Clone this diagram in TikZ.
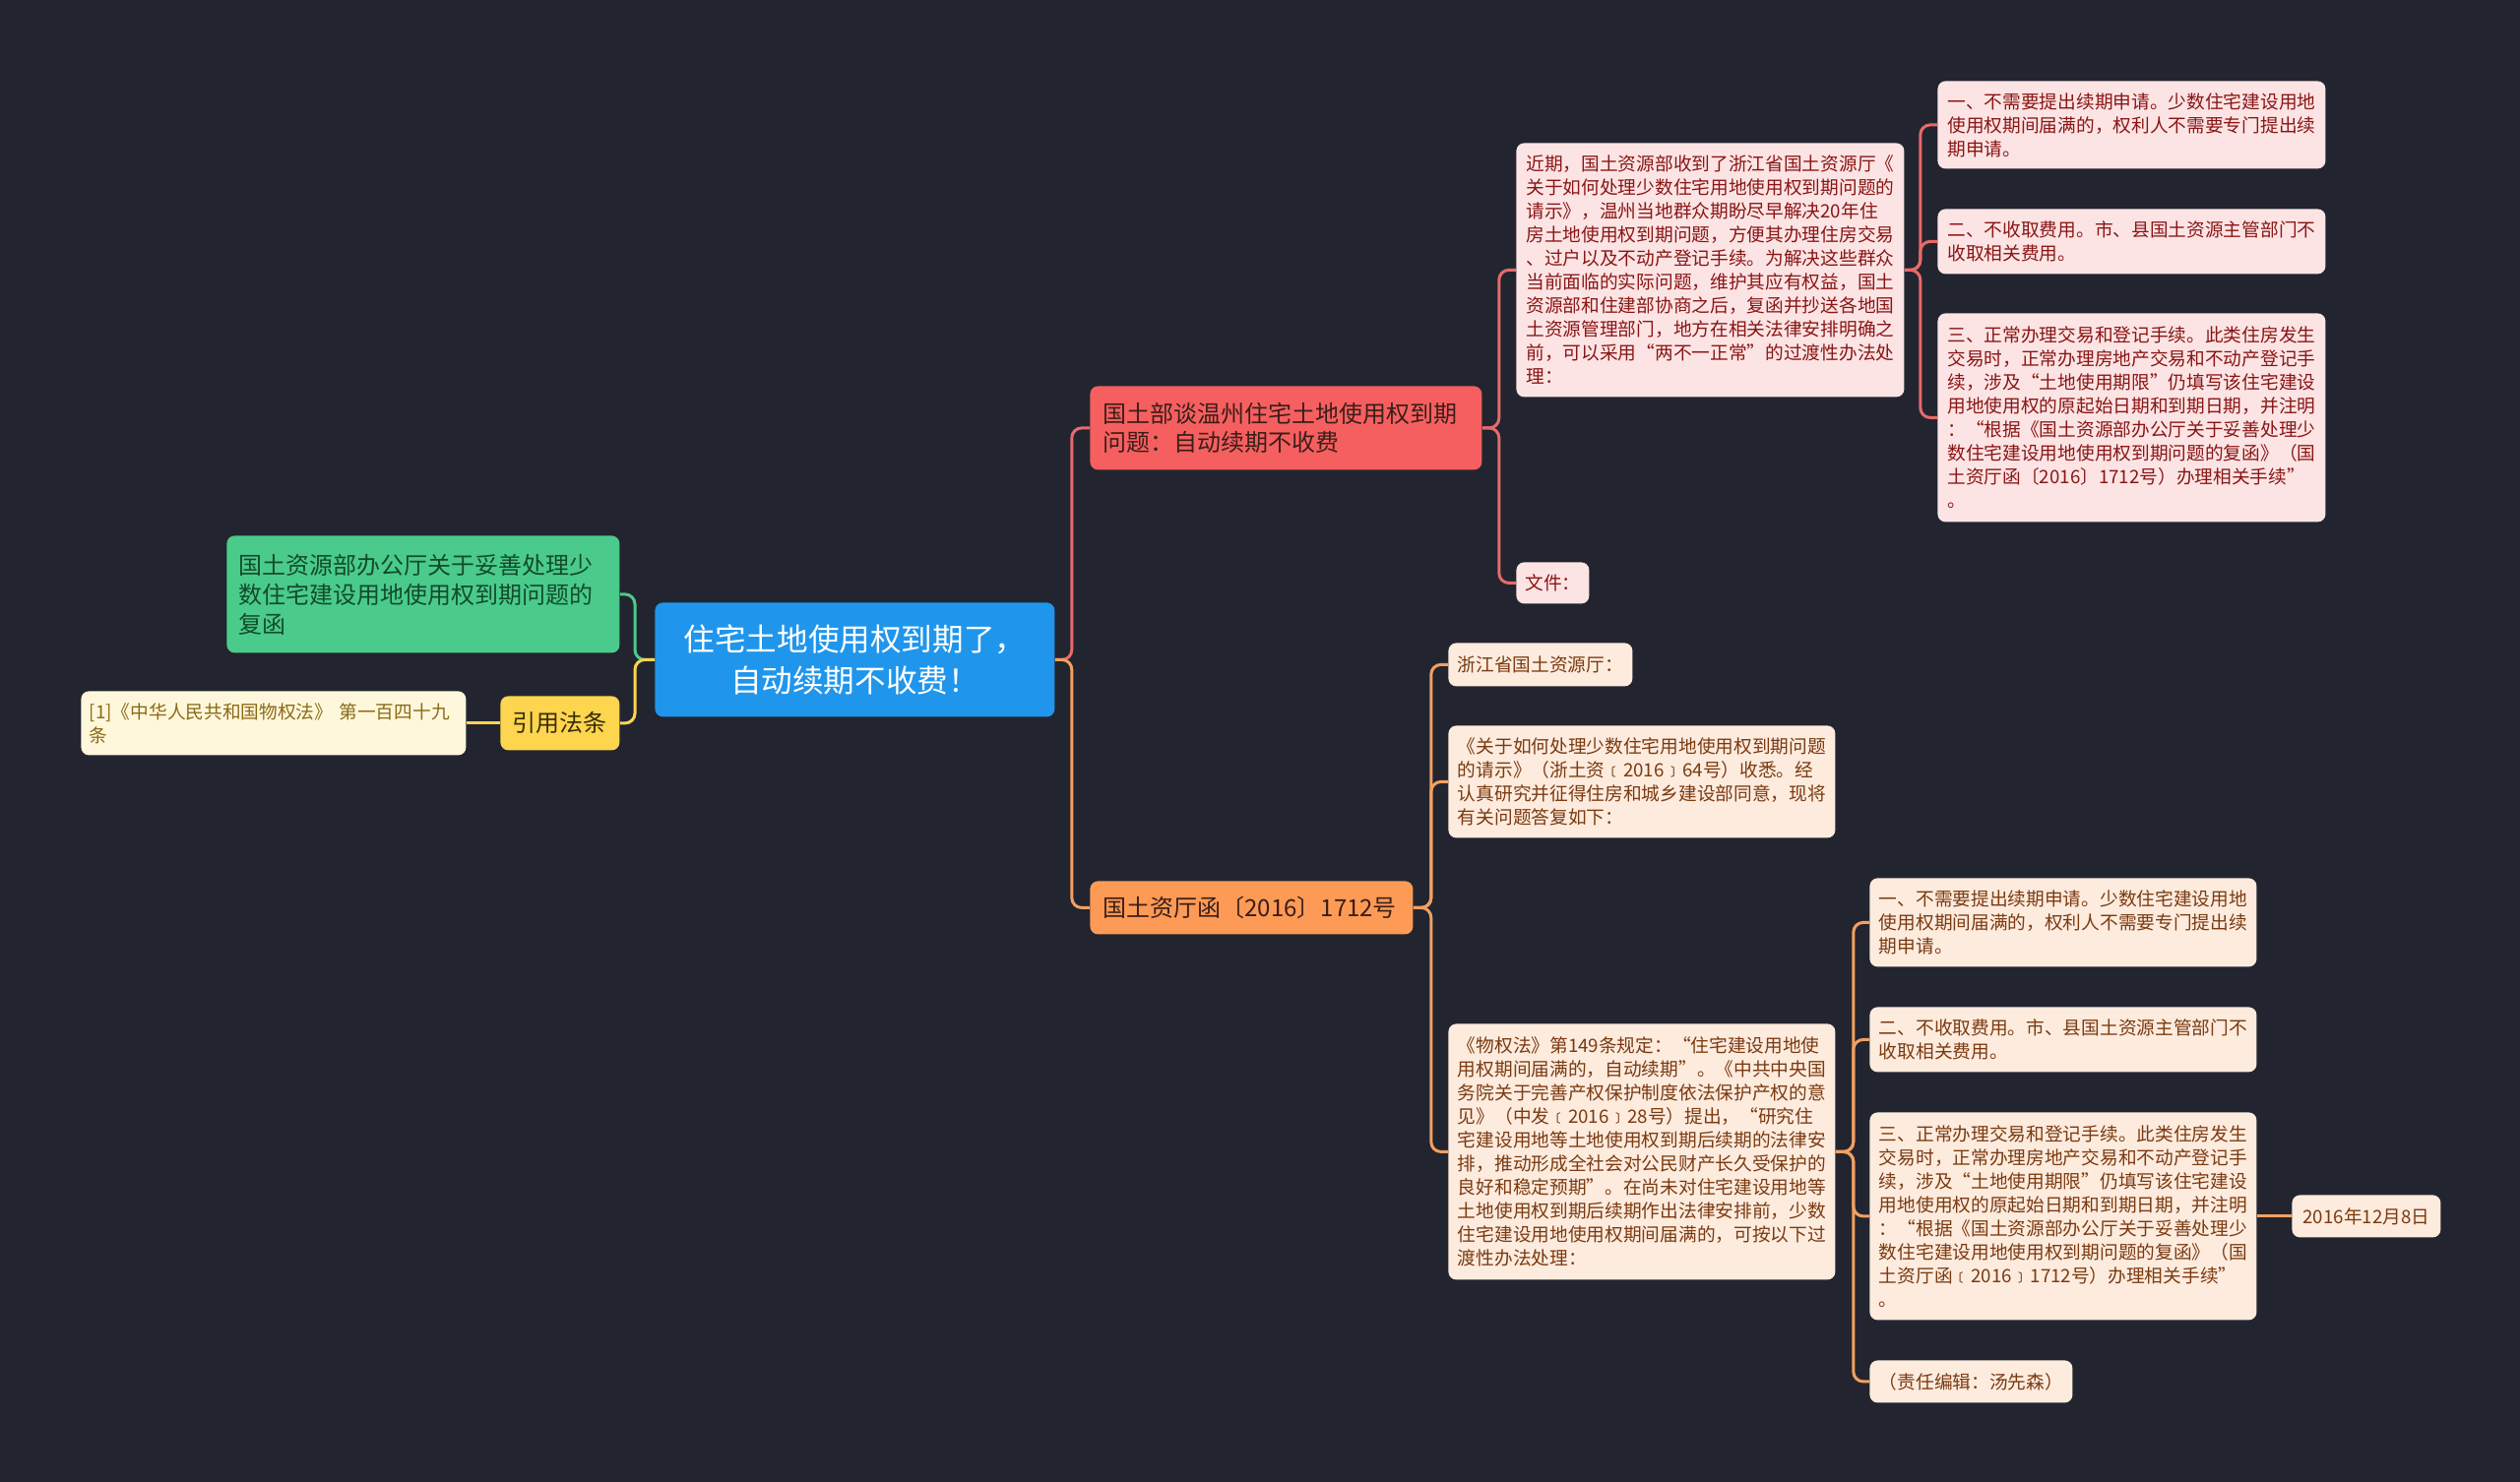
\documentclass[tikz,border=0pt]{standalone}
\usepackage{fontspec}
\setmainfont{Noto Sans CJK SC}
\definecolor{bgc}{HTML}{22252F}
\definecolor{rootc}{HTML}{1F96EC}
\definecolor{redmid}{HTML}{F65F5F}
\definecolor{redln}{HTML}{E86A6A}
\definecolor{pinkf}{HTML}{FCE4E4}
\definecolor{pinkt}{HTML}{8A1515}
\definecolor{orgmid}{HTML}{FD9A55}
\definecolor{orgln}{HTML}{F2A061}
\definecolor{peachf}{HTML}{FDEBDE}
\definecolor{peacht}{HTML}{7B3A10}
\definecolor{grnf}{HTML}{4ACB8B}
\definecolor{grnt}{HTML}{134A2C}
\definecolor{yelf}{HTML}{FDD54F}
\definecolor{yelt}{HTML}{3A2E08}
\definecolor{creamf}{HTML}{FFF7DC}
\definecolor{creamt}{HTML}{8A6A14}
\definecolor{midt}{HTML}{3A1E1A}
\begin{document}
\begin{tikzpicture}[x=0.5pt,y=-0.5pt,
  box/.style={anchor=north west, rounded corners=4pt, inner sep=0pt},
  leaffont/.style={font=\fontsize{9.35pt}{12pt}\selectfont},
  midfont/.style={font=\fontsize{12pt}{14.5pt}\selectfont},
  pinkleaf/.style={box, leaffont, fill=pinkf, text=pinkt, align=left},
  peachleaf/.style={box, leaffont, fill=peachf, text=peacht, align=left},
  conn/.style={line width=1.5pt, rounded corners=5pt},
]
\useasboundingbox (0,0) rectangle (2560,1505);
\fill[bgc] (-20,-20) rectangle (2580,1525);

% root
\node[box, fill=rootc, text=white, align=center, font=\fontsize{15.8pt}{21pt}\selectfont,
  minimum width=203pt, minimum height=58pt, text width=195pt] (root) at (665,612)
  {住宅土地使用权到期了，\\自动续期不收费！};

% red branch
\node[box, midfont, fill=redmid, text=midt, align=left, minimum width=199pt, minimum height=42.5pt, text width=186pt] (red) at (1107,392)
  {国土部谈温州住宅土地使用权到期\\问题：自动续期不收费};
\node[pinkleaf, minimum width=197pt, minimum height=129pt, text width=187pt] (p0) at (1540,145)
  {近期，国土资源部收到了浙江省国土资源厅《\\关于如何处理少数住宅用地使用权到期问题的\\请示》，温州当地群众期盼尽早解决20年住\\房土地使用权到期问题，方便其办理住房交易\\、过户以及不动产登记手续。为解决这些群众\\当前面临的实际问题，维护其应有权益，国土\\资源部和住建部协商之后，复函并抄送各地国\\土资源管理部门，地方在相关法律安排明确之\\前，可以采用“两不一正常”的过渡性办法处\\理：};
\node[pinkleaf, minimum width=197pt, minimum height=44.5pt, text width=187pt] (p1) at (1968,82)
  {一、不需要提出续期申请。少数住宅建设用地\\使用权期间届满的，权利人不需要专门提出续\\期申请。};
\node[pinkleaf, minimum width=197pt, minimum height=33pt, text width=187pt] (p2) at (1968,212)
  {二、不收取费用。市、县国土资源主管部门不\\收取相关费用。};
\node[pinkleaf, minimum width=197pt, minimum height=106pt, text width=187pt] (p3) at (1968,318)
  {三、正常办理交易和登记手续。此类住房发生\\交易时，正常办理房地产交易和不动产登记手\\续，涉及“土地使用期限”仍填写该住宅建设\\用地使用权的原起始日期和到期日期，并注明\\：“根据《国土资源部办公厅关于妥善处理少\\数住宅建设用地使用权到期问题的复函》（国\\土资厅函〔2016〕1712号）办理相关手续”\\。};
\node[box, leaffont, fill=pinkf, text=pinkt, align=center, minimum width=37pt, minimum height=21pt] (file) at (1540,571)
  {文件：};

% orange branch
\node[box, midfont, fill=orgmid, text=midt, align=left, minimum width=164pt, minimum height=27pt, text width=151pt] (org) at (1107,895)
  {国土资厅函〔2016〕1712号};
\node[box, leaffont, fill=peachf, text=peacht, align=center, minimum width=93.5pt, minimum height=22pt] (zj) at (1471,653)
  {浙江省国土资源厅：};
\node[peachleaf, minimum width=196.5pt, minimum height=57pt, text width=187pt] (gy) at (1471,737)
  {《关于如何处理少数住宅用地使用权到期问题\\的请示》（浙土资﹝2016﹞64号）收悉。经\\认真研究并征得住房和城乡建设部同意，现将\\有关问题答复如下：};
\node[peachleaf, minimum width=196.5pt, minimum height=130pt, text width=187pt] (wq) at (1471,1040)
  {《物权法》第149条规定：“住宅建设用地使\\用权期间届满的，自动续期”。《中共中央国\\务院关于完善产权保护制度依法保护产权的意\\见》（中发﹝2016﹞28号）提出，“研究住\\宅建设用地等土地使用权到期后续期的法律安\\排，推动形成全社会对公民财产长久受保护的\\良好和稳定预期”。在尚未对住宅建设用地等\\土地使用权到期后续期作出法律安排前，少数\\住宅建设用地使用权期间届满的，可按以下过\\渡性办法处理：};
\node[peachleaf, minimum width=196.5pt, minimum height=45pt, text width=187pt] (o1) at (1899,892)
  {一、不需要提出续期申请。少数住宅建设用地\\使用权期间届满的，权利人不需要专门提出续\\期申请。};
\node[peachleaf, minimum width=196.5pt, minimum height=33pt, text width=187pt] (o2) at (1899,1023)
  {二、不收取费用。市、县国土资源主管部门不\\收取相关费用。};
\node[peachleaf, minimum width=196.5pt, minimum height=105.5pt, text width=187pt] (o3) at (1899,1130)
  {三、正常办理交易和登记手续。此类住房发生\\交易时，正常办理房地产交易和不动产登记手\\续，涉及“土地使用期限”仍填写该住宅建设\\用地使用权的原起始日期和到期日期，并注明\\：“根据《国土资源部办公厅关于妥善处理少\\数住宅建设用地使用权到期问题的复函》（国\\土资厅函﹝2016﹞1712号）办理相关手续”\\。};
\node[box, leaffont, fill=peachf, text=peacht, align=center, minimum width=75.5pt, minimum height=21.5pt] (date) at (2328,1214)
  {2016年12月8日};
\node[box, leaffont, fill=peachf, text=peacht, align=center, minimum width=103pt, minimum height=21.5pt] (ed) at (1899,1382)
  {（责任编辑：汤先森）};

% left side
\node[box, font=\fontsize{12pt}{15pt}\selectfont, fill=grnf, text=grnt, align=left, minimum width=199.5pt, minimum height=59.5pt, text width=187pt] (grn) at (230,544)
  {国土资源部办公厅关于妥善处理少\\数住宅建设用地使用权到期问题的\\复函};
\node[box, midfont, fill=yelf, text=yelt, align=center, minimum width=60.5pt, minimum height=27.5pt] (yel) at (508,707)
  {引用法条};
\node[box, leaffont, fill=creamf, text=creamt, align=left, minimum width=195.5pt, minimum height=32.5pt, text width=187pt] (cream) at (82,702)
  {[1]《中华人民共和国物权法》 第一百四十九\\条};

% connectors
\draw[conn, redln] (root.east) -- ++(8.5pt,0) |- (red.west);
\draw[conn, orgln] (root.east) -- ++(8.5pt,0) |- (org.west);
\draw[conn, grnf] (root.west) -- ++(-10pt,0) |- (grn.east);
\draw[conn, yelf] (root.west) -- ++(-10pt,0) |- (yel.east);
\draw[conn, yelf] (yel.west) -- (cream.east);

\draw[conn, redln] (red.east) -- ++(8.5pt,0) |- (p0.west);
\draw[conn, redln] (red.east) -- ++(8.5pt,0) |- (file.west);
\draw[conn, redln] (p0.east) -- ++(8pt,0) |- (p1.west);
\draw[conn, redln] (p0.east) -- ++(8pt,0) |- (p2.west);
\draw[conn, redln] (p0.east) -- ++(8pt,0) |- (p3.west);

\draw[conn, orgln] (org.east) -- ++(9pt,0) |- (zj.west);
\draw[conn, orgln] (org.east) -- ++(9pt,0) |- (gy.west);
\draw[conn, orgln] (org.east) -- ++(9pt,0) |- (wq.west);
\draw[conn, orgln] (wq.east) -- ++(9pt,0) |- (o1.west);
\draw[conn, orgln] (wq.east) -- ++(9pt,0) |- (o2.west);
\draw[conn, orgln] (wq.east) -- ++(9pt,0) |- (o3.west);
\draw[conn, orgln] (wq.east) -- ++(9pt,0) |- (ed.west);
\draw[conn, orgln] (o3.east) -- (date.west);
\end{tikzpicture}
\end{document}
